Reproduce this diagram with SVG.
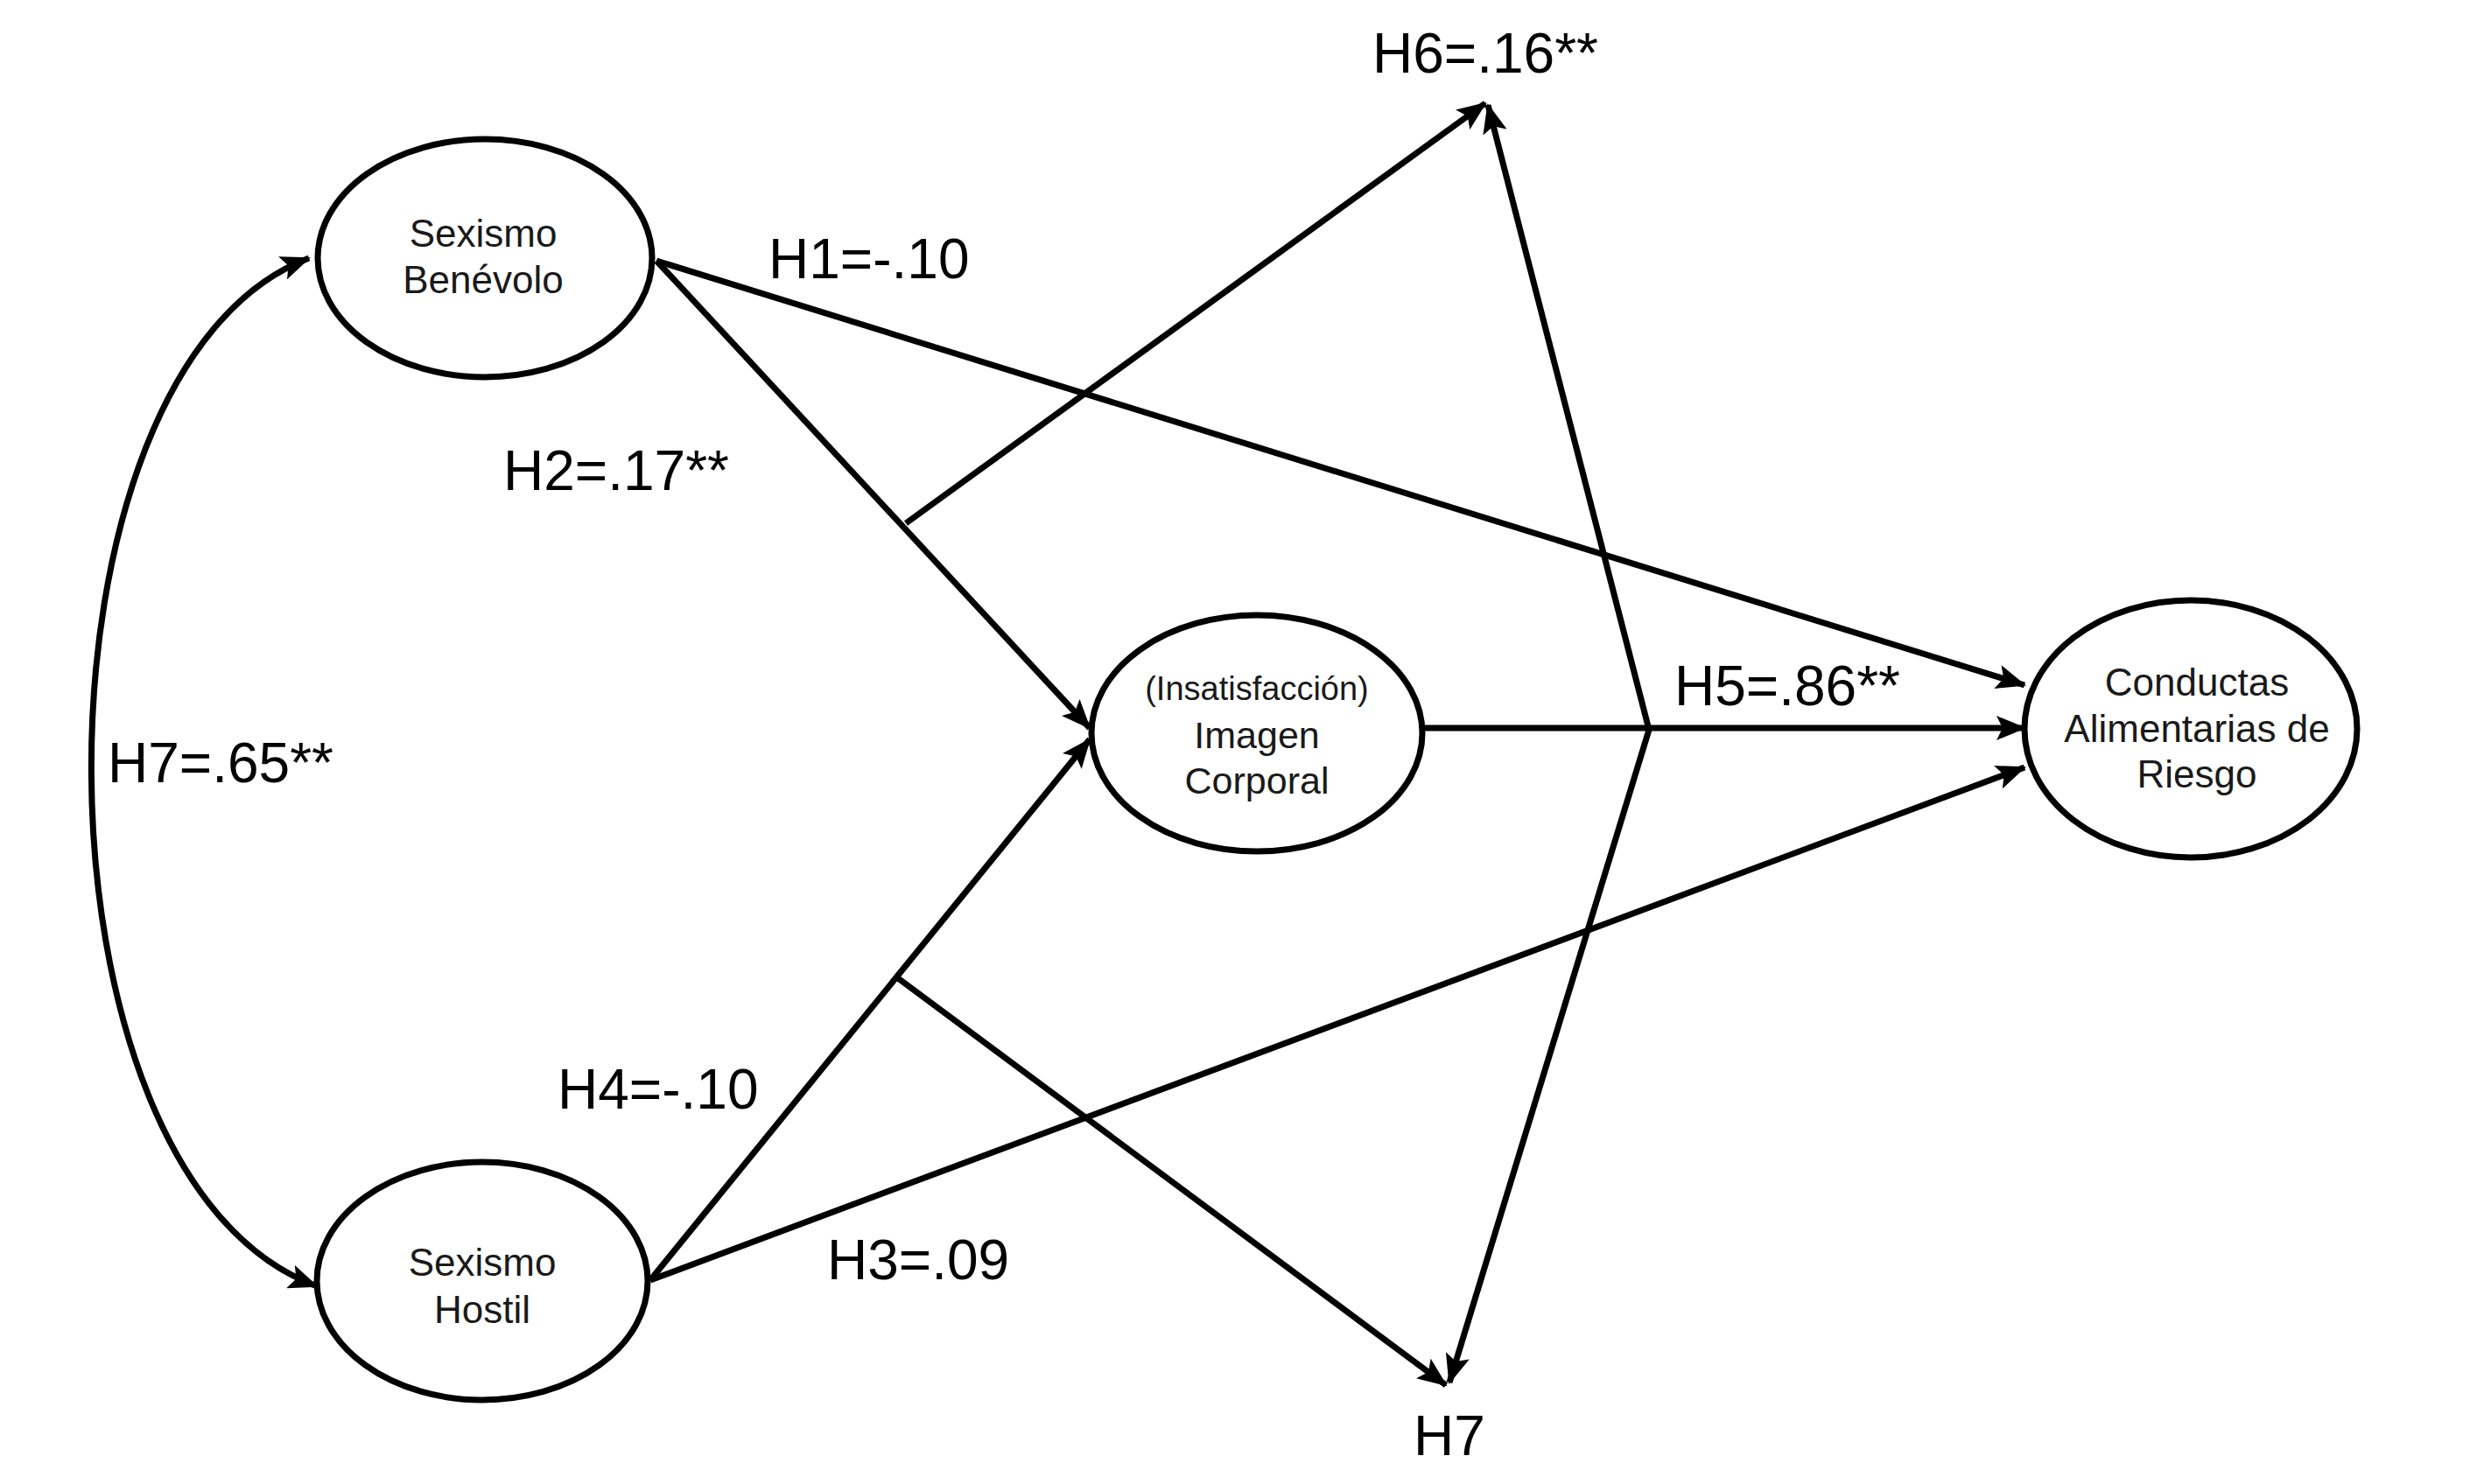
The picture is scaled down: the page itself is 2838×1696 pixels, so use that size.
<svg xmlns="http://www.w3.org/2000/svg" width="2838" height="1696" viewBox="0 0 2838 1696">
<defs>
<marker id="ah" markerUnits="userSpaceOnUse" markerWidth="34" markerHeight="28" refX="32" refY="14" orient="auto-start-reverse">
<path d="M0,0 L34,14 L0,28 L7,14 z" fill="#000"/>
</marker>
<style>
.node ellipse{fill:#fff;stroke:#000;stroke-width:7}
.nt{font-family:"Liberation Sans",Arial,sans-serif;fill:#1a1a1a;text-anchor:middle}
.lbl{font-family:"Liberation Sans",Arial,sans-serif;font-size:64px;fill:#000}
.c{fill:none;stroke:#000;stroke-width:7}
</style>
</defs>
<rect width="2838" height="1696" fill="#fff"/>
<g id="connectors">
<path class="c" d="M353,295 C20,420 20,1345 362,1470" marker-start="url(#ah)" marker-end="url(#ah)"/>
<line class="c" x1="750" y1="298" x2="2313" y2="783" marker-end="url(#ah)"/>
<line class="c" x1="750" y1="298" x2="1245" y2="832" marker-end="url(#ah)"/>
<line class="c" x1="743" y1="1463" x2="1245" y2="845" marker-end="url(#ah)"/>
<line class="c" x1="743" y1="1463" x2="2313" y2="877" marker-end="url(#ah)"/>
<line class="c" x1="1625" y1="832" x2="2313" y2="832" marker-end="url(#ah)"/>
<line class="c" x1="1035" y1="598" x2="1697" y2="118" marker-end="url(#ah)"/>
<line class="c" x1="1884" y1="834" x2="1700" y2="120" marker-end="url(#ah)"/>
<line class="c" x1="1026" y1="1118" x2="1652" y2="1583" marker-end="url(#ah)"/>
<line class="c" x1="1884" y1="834" x2="1656" y2="1580" marker-end="url(#ah)"/>
</g>
<g id="node-benevolo" class="node">
<ellipse cx="554" cy="295" rx="191" ry="136"/>
<text class="nt" x="552" y="282" font-size="44">Sexismo</text>
<text class="nt" x="552" y="335" font-size="44">Benévolo</text>
</g>
<g id="node-hostil" class="node">
<ellipse cx="551" cy="1464" rx="189" ry="136"/>
<text class="nt" x="551" y="1458" font-size="44">Sexismo</text>
<text class="nt" x="551" y="1512" font-size="44">Hostil</text>
</g>
<g id="node-imagen" class="node">
<ellipse cx="1436" cy="838" rx="189" ry="135"/>
<text class="nt" x="1436" y="800" font-size="38">(Insatisfacción)</text>
<text class="nt" x="1436" y="855" font-size="43">Imagen</text>
<text class="nt" x="1436" y="907" font-size="43">Corporal</text>
</g>
<g id="node-conductas" class="node">
<ellipse cx="2503" cy="833" rx="190" ry="147"/>
<text class="nt" x="2510" y="795" font-size="44">Conductas</text>
<text class="nt" x="2510" y="848" font-size="44">Alimentarias de</text>
<text class="nt" x="2510" y="900" font-size="44">Riesgo</text>
</g>
<g id="labels">
<text class="lbl" x="878" y="318">H1=-.10</text>
<text class="lbl" x="575" y="560">H2=.17**</text>
<text class="lbl" x="945" y="1462">H3=.09</text>
<text class="lbl" x="637" y="1267">H4=-.10</text>
<text class="lbl" x="1913" y="806">H5=.86**</text>
<text class="lbl" x="1568" y="83">H6=.16**</text>
<text class="lbl" x="123" y="894">H7=.65**</text>
<text class="lbl" x="1615" y="1663">H7</text>
</g>
</svg>
